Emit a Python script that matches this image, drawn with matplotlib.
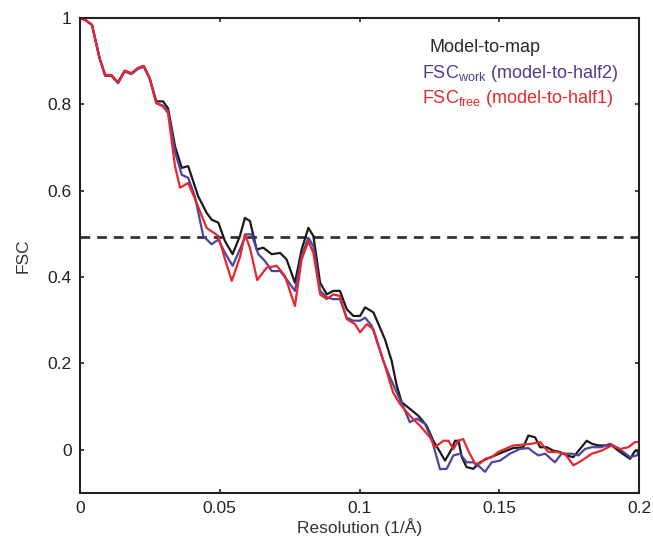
import numpy as np
from matplotlib import pyplot as plt

plt.rcParams['font.family'] = ['Liberation Sans', 'DejaVu Sans']
plt.rcParams['mathtext.fontset'] = 'custom'
plt.rcParams['mathtext.rm'] = 'Liberation Sans'

# model-to-map FSC (black)
res_map = [0, 0.002, 0.0043, 0.007, 0.009, 0.0112, 0.0136, 0.016, 0.0184, 0.0207,
           0.0228, 0.0249, 0.0273, 0.0297, 0.0315, 0.034, 0.0364, 0.0387, 0.0423, 0.0453,
           0.0471, 0.0495, 0.0519, 0.0546, 0.0572, 0.059, 0.0608, 0.0632, 0.0656, 0.0686,
           0.0716, 0.0739, 0.0769, 0.0793, 0.0817, 0.0835, 0.0859, 0.0883, 0.0906, 0.093,
           0.0954, 0.0978, 0.1002, 0.102, 0.105, 0.1091, 0.1115, 0.1133, 0.1151, 0.118,
           0.121, 0.124, 0.1264, 0.1288, 0.1306, 0.133, 0.1342, 0.1354, 0.1366, 0.1383,
           0.1407, 0.1431, 0.1455, 0.1485, 0.1514, 0.155, 0.1586, 0.1604, 0.1628, 0.1646,
           0.167, 0.1693, 0.1717, 0.1741, 0.1765, 0.1789, 0.1813, 0.1831, 0.1855, 0.1878,
           0.1902, 0.1926, 0.195, 0.1968, 0.1986, 0.2]
fsc_map = [1.0, 0.995, 0.984, 0.907, 0.868, 0.868, 0.851, 0.878, 0.872, 0.884,
           0.889, 0.861, 0.807, 0.807, 0.791, 0.703, 0.653, 0.657, 0.587, 0.549,
           0.533, 0.526, 0.483, 0.453, 0.495, 0.537, 0.53, 0.464, 0.468, 0.453,
           0.456, 0.441, 0.387, 0.464, 0.514, 0.495, 0.387, 0.36, 0.368, 0.368,
           0.326, 0.31, 0.31, 0.33, 0.318, 0.256, 0.206, 0.149, 0.11, 0.095,
           0.079, 0.056, 0.021, -0.005, -0.025, 0.002, 0.021, 0.021, -0.017, -0.04,
           -0.044, -0.029, -0.021, -0.013, -0.005, 0.004, 0.006, 0.033, 0.029, 0.006,
           0.006, -0.002, -0.005, -0.013, -0.017, 0.002, 0.021, 0.014, 0.01, 0.01,
           0.01, -0.002, -0.013, -0.021, -0.002, -0.005]

# FSC work, model-to-half2 (blue)
res_work = [0, 0.002, 0.0043, 0.007, 0.009, 0.0112, 0.0136, 0.016, 0.0184, 0.0207,
            0.0228, 0.0249, 0.0273, 0.0297, 0.0315, 0.034, 0.0364, 0.0387, 0.0411, 0.0441,
            0.0471, 0.0495, 0.0519, 0.0546, 0.0572, 0.0594, 0.0614, 0.0638, 0.0662, 0.0686,
            0.0716, 0.0739, 0.0769, 0.0793, 0.0817, 0.0835, 0.0859, 0.0883, 0.0906, 0.093,
            0.0954, 0.0978, 0.1002, 0.102, 0.1044, 0.1085, 0.1109, 0.1133, 0.1157, 0.118,
            0.1205, 0.1234, 0.1258, 0.1288, 0.1312, 0.1336, 0.136, 0.1383, 0.1407, 0.1431,
            0.1449, 0.1473, 0.1503, 0.1538, 0.1574, 0.1604, 0.1622, 0.164, 0.1664, 0.1699,
            0.1723, 0.1759, 0.1783, 0.1807, 0.1831, 0.1866, 0.1896, 0.192, 0.1944, 0.1968,
            0.1992, 0.2]
fsc_work = [1.0, 0.995, 0.984, 0.907, 0.866, 0.866, 0.849, 0.876, 0.870, 0.882,
            0.887, 0.861, 0.803, 0.797, 0.785, 0.69, 0.637, 0.63, 0.587, 0.495,
            0.476, 0.487, 0.456, 0.426, 0.464, 0.499, 0.499, 0.453, 0.437, 0.414,
            0.414, 0.395, 0.368, 0.449, 0.491, 0.472, 0.368, 0.353, 0.349, 0.349,
            0.306, 0.299, 0.299, 0.306, 0.287, 0.206, 0.168, 0.133, 0.099, 0.064,
            0.072, 0.06, 0.025, -0.045, -0.044, -0.013, -0.009, -0.029, -0.029, -0.04,
            -0.051, -0.029, -0.025, -0.009, 0.002, 0.004, -0.005, -0.013, -0.009, -0.029,
            -0.009, -0.009, -0.013, 0.002, 0.006, 0.006, 0.014, 0.006, -0.005, -0.017,
            -0.013, -0.005]

# FSC free, model-to-half1 (red)
res_free = [0, 0.002, 0.0043, 0.007, 0.009, 0.0112, 0.0136, 0.016, 0.0184, 0.0207,
            0.0228, 0.0249, 0.0273, 0.0297, 0.0315, 0.034, 0.0358, 0.0387, 0.0417, 0.0453,
            0.0495, 0.0519, 0.0543, 0.0572, 0.059, 0.0608, 0.0634, 0.0668, 0.0704, 0.0733,
            0.0769, 0.0793, 0.0817, 0.0835, 0.0859, 0.0883, 0.0906, 0.093, 0.0954, 0.0984,
            0.1002, 0.1026, 0.105, 0.1091, 0.112, 0.1145, 0.118, 0.1216, 0.1252, 0.127,
            0.13, 0.1318, 0.1336, 0.1354, 0.1371, 0.1389, 0.1413, 0.1431, 0.1449, 0.1473,
            0.1497, 0.1521, 0.155, 0.1586, 0.1616, 0.1646, 0.1676, 0.1705, 0.1735, 0.1765,
            0.1795, 0.1831, 0.1866, 0.1902, 0.1932, 0.1962, 0.1986, 0.2]
fsc_free = [1.0, 0.995, 0.984, 0.907, 0.868, 0.868, 0.851, 0.878, 0.872, 0.884,
            0.889, 0.861, 0.803, 0.795, 0.78, 0.657, 0.607, 0.618, 0.572, 0.514,
            0.495, 0.441, 0.391, 0.445, 0.499, 0.468, 0.393, 0.422, 0.426, 0.403,
            0.333, 0.441, 0.483, 0.456, 0.36, 0.349, 0.36, 0.356, 0.303, 0.291,
            0.272, 0.291, 0.279, 0.195, 0.133, 0.106, 0.079, 0.056, 0.029, 0.006,
            0.021, 0.021, 0.002, 0.021, 0.025, -0.002, -0.032, -0.032, -0.021, -0.017,
            -0.005, 0.002, 0.01, 0.012, 0.014, 0.018, -0.005, -0.005, -0.009, -0.036,
            -0.025, -0.009, -0.002, 0.01, 0.002, 0.006, 0.018, 0.018]

threshold = 0.493
xticks = [0, 0.05, 0.1, 0.15, 0.2]
yticks = [0, 0.2, 0.4, 0.6, 0.8, 1]

fig = plt.figure(figsize=(6.53, 5.48), dpi=100)
ax = fig.add_axes([0.1225, 0.1004, 0.8561, 0.8667])

ax.axhline(threshold, color='#333333', lw=2, ls=(0, (3.5, 2.5)))
ax.plot(res_map, fsc_map, color='#1a1a1a', lw=1.6)
ax.plot(res_work, fsc_work, color='#4b45a0', lw=1.6)
ax.plot(res_free, fsc_free, color='#e8262b', lw=1.6)

ax.set_xlim(0, 0.2)
ax.set_ylim(-0.1, 1)
ax.set_xticks(xticks)
ax.set_xticklabels(['0', '0.05', '0.1', '0.15', '0.2'])
ax.set_yticks(yticks)
ax.set_yticklabels(['0', '0.2', '0.4', '0.6', '0.8', '1'])
ax.tick_params(direction='in', length=3, width=1.2, labelsize=12.5,
               top=True, right=True, colors='#222222', pad=6)
for s in ax.spines.values():
    s.set_linewidth(1.5)
    s.set_color('#222222')

ax.set_xlabel('Resolution (1/Å)', fontsize=12.5, color='#333333', labelpad=1)
ax.set_ylabel('FSC', fontsize=12.5, color='#333333', labelpad=12)

ax.text(0.725, 0.938, 'Model-to-map', transform=ax.transAxes, fontsize=13,
        color='#2e2622', ha='center', va='center')
ax.text(0.612, 0.883, r'FSC$_{\mathrm{work}}$ (model-to-half2)', transform=ax.transAxes,
        fontsize=13, color='#4b3f8f', ha='left', va='center')
ax.text(0.612, 0.83, r'FSC$_{\mathrm{free}}$ (model-to-half1)', transform=ax.transAxes,
        fontsize=13, color='#e8262b', ha='left', va='center')

plt.savefig('out.png', dpi=100)
